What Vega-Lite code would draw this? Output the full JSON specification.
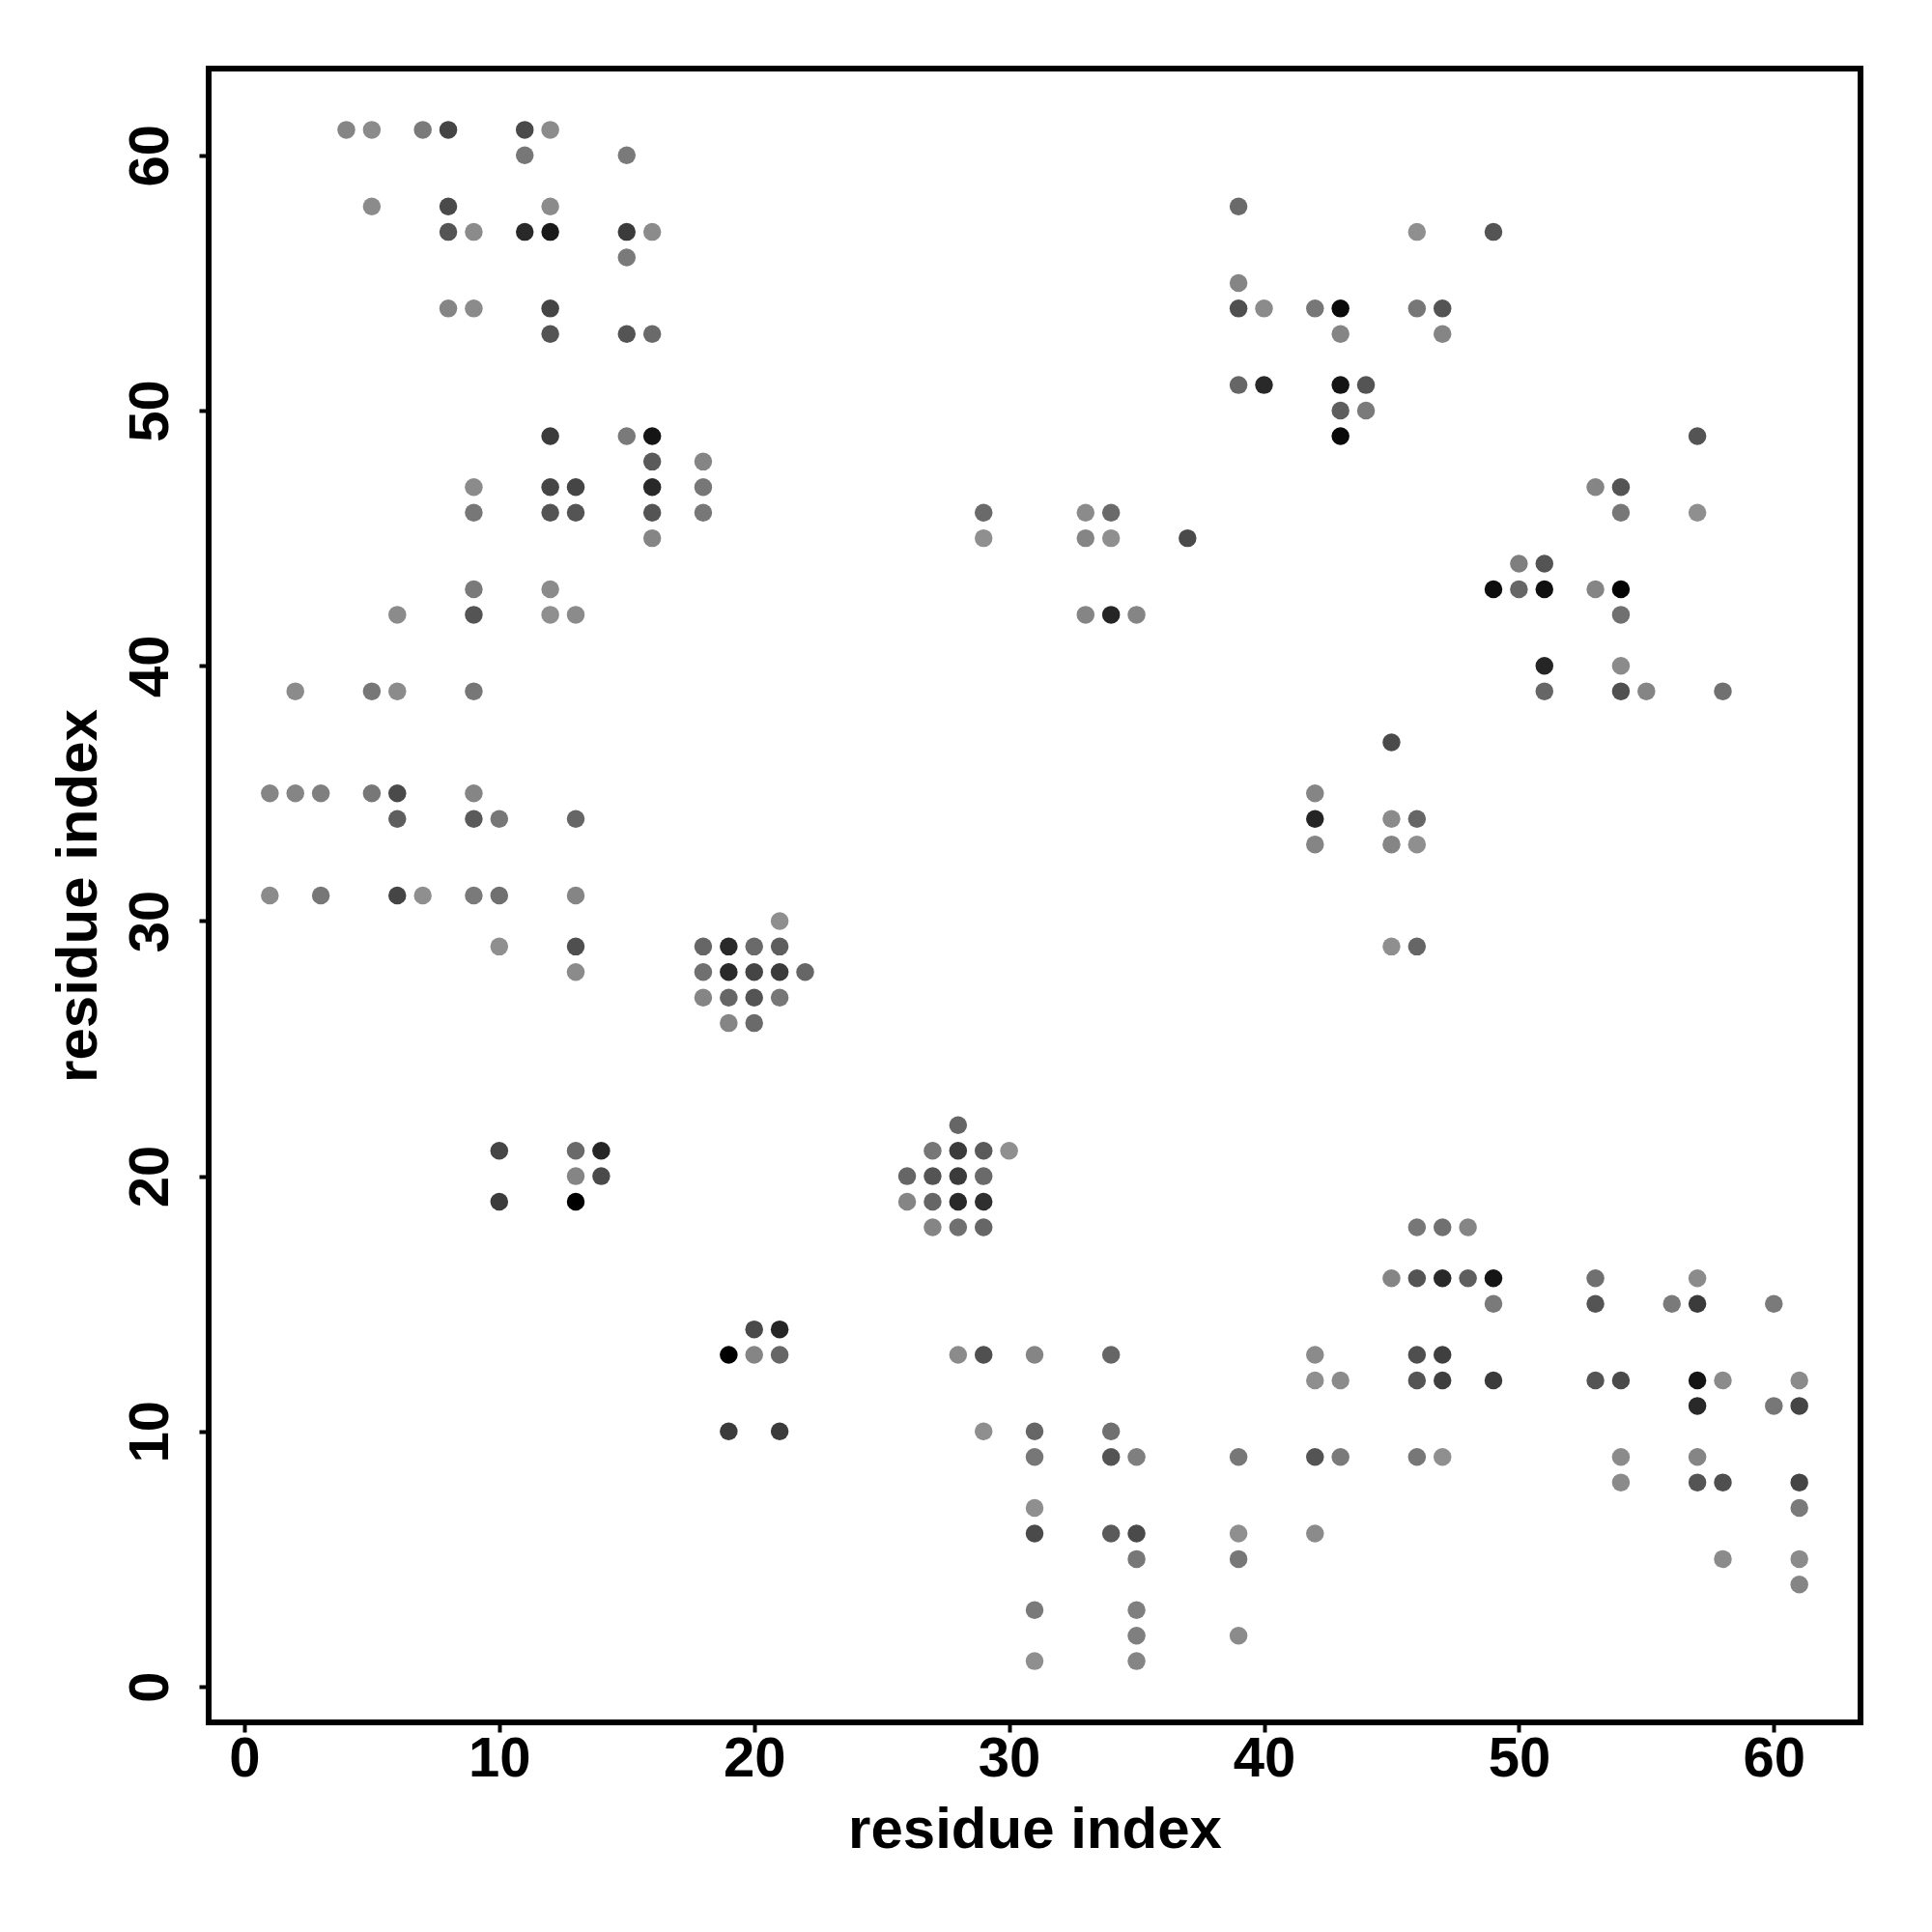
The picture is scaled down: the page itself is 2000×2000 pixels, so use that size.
{
  "$schema": "https://vega.github.io/schema/vega-lite/v6.json",
  "width": 1710,
  "height": 1712,
  "autosize": {"type": "none"},
  "padding": {"left": 216, "top": 71, "right": 74, "bottom": 217},
  "background": "white",
  "config": {
    "font": "Liberation Sans",
    "view": {"stroke": "black", "strokeWidth": 6},
    "axis": {
      "grid": false,
      "domain": false,
      "tickColor": "black",
      "tickWidth": 4,
      "tickSize": 10,
      "labelFont": "Liberation Sans",
      "labelFontWeight": "bold",
      "labelFontSize": 58,
      "labelColor": "black",
      "titleFont": "Liberation Sans",
      "titleFontWeight": "bold",
      "titleFontSize": 60,
      "titleColor": "black",
      "labelFlush": false,
      "labelOverlap": false
    }
  },
  "data": {
    "values": [
      {"x":4,"y":61,"p":0.07},{"x":5,"y":61,"p":0.03},{"x":7,"y":61,"p":0.15},{"x":8,"y":61,"p":0.52},{"x":11,"y":61,"p":0.48},{"x":12,"y":61,"p":0.03},
      {"x":11,"y":60,"p":0.17},{"x":15,"y":60,"p":0.15},
      {"x":5,"y":58,"p":0.03},{"x":8,"y":58,"p":0.48},{"x":12,"y":58,"p":0.03},
      {"x":8,"y":57,"p":0.41},{"x":9,"y":57,"p":0.03},{"x":11,"y":57,"p":0.71},{"x":12,"y":57,"p":0.82},{"x":15,"y":57,"p":0.59},{"x":16,"y":57,"p":0.03},
      {"x":15,"y":56,"p":0.15},
      {"x":8,"y":54,"p":0.07},{"x":9,"y":54,"p":0.03},{"x":12,"y":54,"p":0.52},
      {"x":12,"y":53,"p":0.41},{"x":15,"y":53,"p":0.41},{"x":16,"y":53,"p":0.26},
      {"x":12,"y":49,"p":0.59},{"x":15,"y":49,"p":0.15},{"x":16,"y":49,"p":0.85},
      {"x":16,"y":48,"p":0.37},{"x":18,"y":48,"p":0.07},
      {"x":9,"y":47,"p":0.03},{"x":12,"y":47,"p":0.52},{"x":13,"y":47,"p":0.52},{"x":16,"y":47,"p":0.71},{"x":18,"y":47,"p":0.17},
      {"x":9,"y":46,"p":0.17},{"x":12,"y":46,"p":0.41},{"x":13,"y":46,"p":0.41},{"x":16,"y":46,"p":0.41},{"x":18,"y":46,"p":0.17},
      {"x":16,"y":45,"p":0.07},
      {"x":9,"y":43,"p":0.15},{"x":12,"y":43,"p":0.03},
      {"x":6,"y":42,"p":0.03},{"x":9,"y":42,"p":0.41},{"x":12,"y":42,"p":0.0},{"x":13,"y":42,"p":0.03},
      {"x":39,"y":58,"p":0.26},{"x":39,"y":55,"p":0.07},{"x":39,"y":54,"p":0.45},{"x":40,"y":54,"p":0.03},{"x":39,"y":51,"p":0.29},{"x":40,"y":51,"p":0.71},
      {"x":29,"y":46,"p":0.26},{"x":33,"y":46,"p":0.03},{"x":34,"y":46,"p":0.26},
      {"x":29,"y":45,"p":0.0},{"x":33,"y":45,"p":0.07},{"x":34,"y":45,"p":0.0},{"x":37,"y":45,"p":0.48},
      {"x":33,"y":42,"p":0.07},{"x":34,"y":42,"p":0.74},{"x":35,"y":42,"p":0.07},
      {"x":46,"y":57,"p":0.0},{"x":49,"y":57,"p":0.41},
      {"x":42,"y":54,"p":0.17},{"x":43,"y":54,"p":0.93},{"x":46,"y":54,"p":0.17},{"x":47,"y":54,"p":0.41},
      {"x":43,"y":53,"p":0.07},{"x":47,"y":53,"p":0.07},
      {"x":43,"y":51,"p":0.85},{"x":44,"y":51,"p":0.41},
      {"x":43,"y":50,"p":0.34},{"x":44,"y":50,"p":0.15},
      {"x":43,"y":49,"p":0.93},{"x":57,"y":49,"p":0.41},
      {"x":53,"y":47,"p":0.07},{"x":54,"y":47,"p":0.41},
      {"x":54,"y":46,"p":0.17},{"x":57,"y":46,"p":0.0},
      {"x":50,"y":44,"p":0.11},{"x":51,"y":44,"p":0.41},
      {"x":49,"y":43,"p":0.9},{"x":50,"y":43,"p":0.29},{"x":51,"y":43,"p":0.89},{"x":53,"y":43,"p":0.07},{"x":54,"y":43,"p":0.97},
      {"x":54,"y":42,"p":0.22},
      {"x":2,"y":39,"p":0.03},{"x":5,"y":39,"p":0.17},{"x":6,"y":39,"p":0.03},{"x":9,"y":39,"p":0.17},
      {"x":1,"y":35,"p":0.07},{"x":2,"y":35,"p":0.07},{"x":3,"y":35,"p":0.11},{"x":5,"y":35,"p":0.17},{"x":6,"y":35,"p":0.48},{"x":9,"y":35,"p":0.07},
      {"x":6,"y":34,"p":0.34},{"x":9,"y":34,"p":0.37},{"x":10,"y":34,"p":0.17},{"x":13,"y":34,"p":0.29},
      {"x":1,"y":31,"p":0.03},{"x":3,"y":31,"p":0.17},{"x":6,"y":31,"p":0.52},{"x":7,"y":31,"p":0.0},{"x":9,"y":31,"p":0.15},{"x":10,"y":31,"p":0.22},{"x":13,"y":31,"p":0.07},
      {"x":10,"y":29,"p":0.0},{"x":13,"y":29,"p":0.45},{"x":18,"y":29,"p":0.29},{"x":19,"y":29,"p":0.71},{"x":20,"y":29,"p":0.26},
      {"x":13,"y":28,"p":0.03},{"x":18,"y":28,"p":0.22},{"x":19,"y":28,"p":0.71},{"x":20,"y":28,"p":0.52},
      {"x":18,"y":27,"p":0.07},{"x":19,"y":27,"p":0.29},{"x":20,"y":27,"p":0.41},
      {"x":19,"y":26,"p":0.07},{"x":20,"y":26,"p":0.26},
      {"x":10,"y":21,"p":0.52},{"x":13,"y":21,"p":0.26},{"x":14,"y":21,"p":0.74},
      {"x":42,"y":35,"p":0.07},{"x":42,"y":34,"p":0.74},{"x":42,"y":33,"p":0.07},
      {"x":21,"y":30,"p":0.0},{"x":21,"y":29,"p":0.34},{"x":21,"y":28,"p":0.59},{"x":22,"y":28,"p":0.29},{"x":21,"y":27,"p":0.17},
      {"x":28,"y":22,"p":0.29},
      {"x":27,"y":21,"p":0.17},{"x":28,"y":21,"p":0.59},{"x":29,"y":21,"p":0.37},{"x":30,"y":21,"p":0.0},
      {"x":51,"y":40,"p":0.74},{"x":54,"y":40,"p":0.03},
      {"x":51,"y":39,"p":0.29},{"x":54,"y":39,"p":0.44},{"x":55,"y":39,"p":0.07},{"x":58,"y":39,"p":0.22},
      {"x":45,"y":37,"p":0.48},
      {"x":45,"y":34,"p":0.03},{"x":46,"y":34,"p":0.29},
      {"x":45,"y":33,"p":0.07},{"x":46,"y":33,"p":0.0},
      {"x":45,"y":29,"p":0.0},{"x":46,"y":29,"p":0.29},
      {"x":13,"y":20,"p":0.07},{"x":14,"y":20,"p":0.48},
      {"x":10,"y":19,"p":0.59},{"x":13,"y":19,"p":1.0},
      {"x":20,"y":14,"p":0.48},{"x":21,"y":14,"p":0.74},
      {"x":19,"y":13,"p":1.0},{"x":20,"y":13,"p":0.07},{"x":21,"y":13,"p":0.29},
      {"x":19,"y":10,"p":0.59},{"x":21,"y":10,"p":0.59},
      {"x":26,"y":20,"p":0.29},{"x":27,"y":20,"p":0.41},{"x":28,"y":20,"p":0.59},{"x":29,"y":20,"p":0.26},
      {"x":26,"y":19,"p":0.07},{"x":27,"y":19,"p":0.29},{"x":28,"y":19,"p":0.71},{"x":29,"y":19,"p":0.67},
      {"x":27,"y":18,"p":0.07},{"x":28,"y":18,"p":0.22},{"x":29,"y":18,"p":0.29},
      {"x":28,"y":13,"p":0.03},{"x":29,"y":13,"p":0.44},{"x":31,"y":13,"p":0.07},{"x":34,"y":13,"p":0.29},
      {"x":29,"y":10,"p":0.0},{"x":31,"y":10,"p":0.29},{"x":34,"y":10,"p":0.22},
      {"x":31,"y":9,"p":0.17},{"x":34,"y":9,"p":0.41},{"x":35,"y":9,"p":0.11},{"x":39,"y":9,"p":0.17},
      {"x":31,"y":7,"p":0.0},
      {"x":31,"y":6,"p":0.48},{"x":34,"y":6,"p":0.37},{"x":35,"y":6,"p":0.48},{"x":39,"y":6,"p":0.0},
      {"x":35,"y":5,"p":0.17},{"x":39,"y":5,"p":0.17},
      {"x":31,"y":3,"p":0.15},{"x":35,"y":3,"p":0.11},
      {"x":35,"y":2,"p":0.11},{"x":39,"y":2,"p":0.03},
      {"x":31,"y":1,"p":0.0},{"x":35,"y":1,"p":0.07},
      {"x":46,"y":18,"p":0.17},{"x":47,"y":18,"p":0.22},{"x":48,"y":18,"p":0.07},
      {"x":45,"y":16,"p":0.07},{"x":46,"y":16,"p":0.41},{"x":47,"y":16,"p":0.71},{"x":48,"y":16,"p":0.34},{"x":49,"y":16,"p":0.85},{"x":53,"y":16,"p":0.22},{"x":57,"y":16,"p":0.03},
      {"x":49,"y":15,"p":0.15},{"x":53,"y":15,"p":0.41},{"x":56,"y":15,"p":0.15},{"x":57,"y":15,"p":0.59},{"x":60,"y":15,"p":0.15},
      {"x":42,"y":13,"p":0.03},{"x":46,"y":13,"p":0.45},{"x":47,"y":13,"p":0.56},
      {"x":42,"y":12,"p":0.0},{"x":43,"y":12,"p":0.03},{"x":46,"y":12,"p":0.41},{"x":47,"y":12,"p":0.56},{"x":49,"y":12,"p":0.59},{"x":53,"y":12,"p":0.41},{"x":54,"y":12,"p":0.48},{"x":57,"y":12,"p":0.85},{"x":58,"y":12,"p":0.03},{"x":61,"y":12,"p":0.03},
      {"x":57,"y":11,"p":0.71},{"x":60,"y":11,"p":0.17},{"x":61,"y":11,"p":0.52},
      {"x":42,"y":9,"p":0.41},{"x":43,"y":9,"p":0.15},{"x":46,"y":9,"p":0.17},{"x":47,"y":9,"p":0.0},{"x":54,"y":9,"p":0.03},{"x":57,"y":9,"p":0.07},
      {"x":54,"y":8,"p":0.03},{"x":57,"y":8,"p":0.41},{"x":58,"y":8,"p":0.45},{"x":61,"y":8,"p":0.52},
      {"x":61,"y":7,"p":0.15},
      {"x":42,"y":6,"p":0.03},
      {"x":58,"y":5,"p":0.03},{"x":61,"y":5,"p":0.03},
      {"x":61,"y":4,"p":0.07}
    ]
  },
  "mark": {"type": "circle", "size": 342, "opacity": 1, "strokeWidth": 0},
  "encoding": {
    "x": {
      "field": "x", "type": "quantitative",
      "scale": {"domain": [-1.4, 63.4], "nice": false, "zero": false},
      "axis": {
        "values": [0, 10, 20, 30, 40, 50, 60],
        "title": "residue index",
        "labelBaseline": "alphabetic",
        "labelPadding": 45,
        "titleBaseline": "alphabetic",
        "titleY": 129
      }
    },
    "y": {
      "field": "y", "type": "quantitative",
      "scale": {"domain": [-1.4, 63.4], "nice": false, "zero": false},
      "axis": {
        "values": [0, 10, 20, 30, 40, 50, 60],
        "title": "residue index",
        "labelAngle": -90,
        "labelAlign": "center",
        "labelBaseline": "alphabetic",
        "labelPadding": 33,
        "titleAngle": -90,
        "titleBaseline": "alphabetic",
        "titleX": -117,
        "titleY": 856
      }
    },
    "color": {
      "field": "p", "type": "quantitative",
      "scale": {"domain": [0, 1], "range": ["#8f8f8f", "#000000"], "interpolate": "rgb"},
      "legend": null
    }
  }
}
